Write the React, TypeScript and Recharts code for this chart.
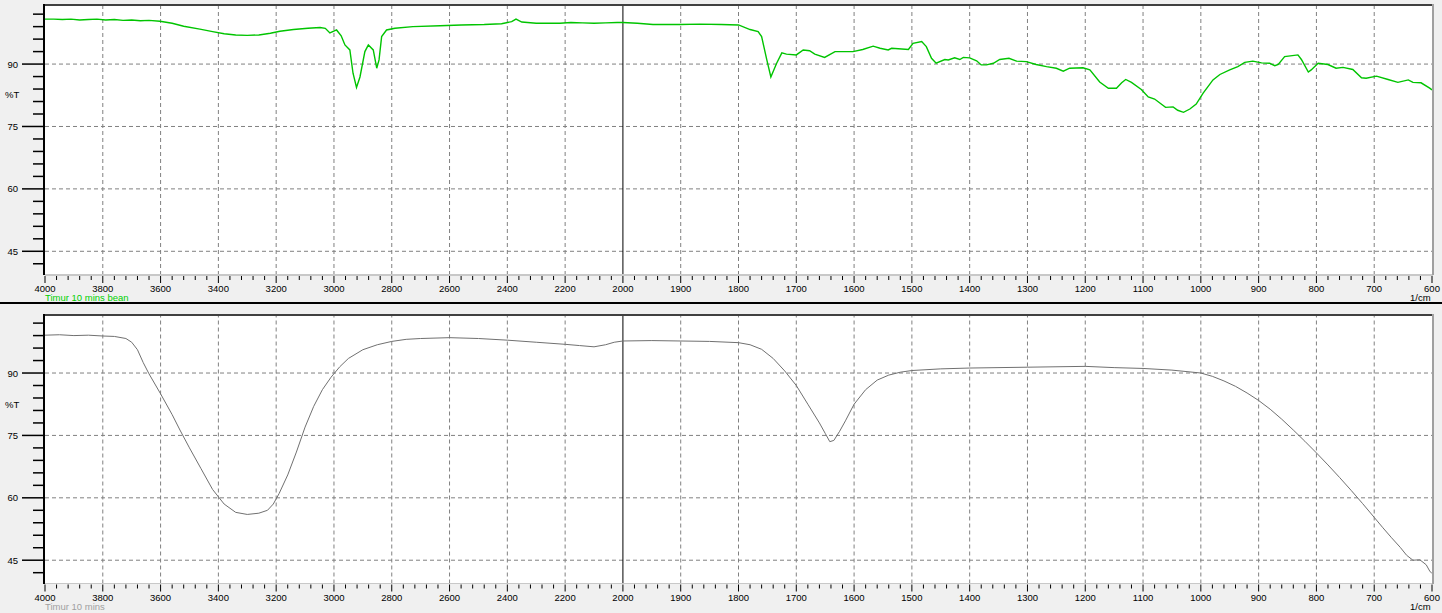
import { LineChart, Line, XAxis, YAxis, CartesianGrid, ReferenceLine } from 'recharts';

// FTIR spectra, two stacked panels sharing a split wavenumber axis
// (4000-2000 compressed, 2000-600 expanded x2)

const topWavenumbers = [
  4000, 3970, 3940, 3910, 3880, 3850, 3820, 3790, 3760, 3730, 3700, 3670, 3640, 3602, 3560, 3520, 3464, 3420, 3380,
  3340, 3300, 3260, 3220, 3187, 3140, 3090, 3048, 3030, 3014, 2991, 2975, 2962, 2945, 2934, 2922, 2910, 2893, 2881,
  2864, 2852, 2844, 2835, 2818, 2789, 2727, 2633, 2560, 2480, 2420, 2385, 2370, 2350, 2300, 2260, 2218, 2180, 2140,
  2100, 2060, 2020, 2000, 1975, 1948, 1901, 1867, 1830, 1800, 1780, 1766, 1760, 1751, 1744, 1734, 1725, 1717, 1700,
  1688, 1677, 1668, 1651, 1633, 1602, 1585, 1567, 1555, 1541, 1535, 1506, 1498, 1483, 1475, 1466, 1458, 1443, 1437,
  1426, 1417, 1411, 1400, 1388, 1380, 1371, 1359, 1348, 1332, 1319, 1302, 1285, 1267, 1250, 1238, 1227, 1204, 1192,
  1175, 1160, 1146, 1137, 1130, 1120, 1103, 1091, 1080, 1061, 1048, 1040, 1030, 1019, 1008, 996, 979, 967, 950, 936,
  924, 910, 895, 881, 872, 866, 855, 832, 826, 814, 809, 797, 780, 766, 754, 737, 722, 714, 696, 676, 659, 641, 633,
  619, 604, 600,
];
const topTransmittance = [
  100.8, 100.8, 100.7, 100.8, 100.6, 100.7, 100.8, 100.6, 100.7, 100.5, 100.6, 100.4, 100.5, 100.3, 99.8, 99.1, 98.4,
  97.8, 97.3, 97.0, 96.9, 97.0, 97.4, 97.9, 98.3, 98.6, 98.8, 98.6, 97.5, 98.2, 96.8, 94.6, 93.4, 87.8, 84.4, 86.9,
  93.0, 94.6, 93.4, 89.0, 91.0, 96.6, 98.2, 98.6, 99.0, 99.2, 99.4, 99.5, 99.7, 100.2, 100.8, 100.1, 99.8, 99.8, 99.8,
  100.0, 99.9, 99.8, 99.9, 100.0, 100.0, 99.8, 99.5, 99.5, 99.6, 99.5, 99.4, 98.3, 97.8, 96.6, 91.0, 86.9, 90.2, 92.7,
  92.4, 92.2, 93.4, 93.2, 92.4, 91.6, 93.0, 93.0, 93.5, 94.3, 93.8, 93.4, 93.8, 93.5, 95.0, 95.4, 94.2, 91.4, 90.2,
  91.1, 91.0, 91.5, 91.1, 91.6, 91.5, 90.8, 89.8, 89.8, 90.2, 91.1, 91.4, 90.7, 90.6, 89.9, 89.4, 89.0, 88.3, 89.0,
  89.1, 88.6, 85.7, 84.2, 84.2, 85.5, 86.3, 85.6, 83.9, 82.1, 81.6, 79.6, 79.7, 78.9, 78.4, 79.2, 80.4, 83.0, 86.2,
  87.5, 88.6, 89.4, 90.4, 90.7, 90.3, 90.2, 89.6, 89.9, 91.8, 92.2, 91.1, 88.1, 88.6, 90.2, 89.9, 89.0, 89.2, 88.7,
  86.7, 86.6, 87.1, 86.3, 85.6, 86.2, 85.6, 85.5, 84.2, 83.8,
];

const bottomWavenumbers = [
  4000, 3950, 3900, 3850, 3800, 3760, 3720, 3700, 3680, 3660, 3640, 3600, 3560, 3533, 3500, 3460, 3420, 3380, 3340,
  3300, 3260, 3230, 3210, 3190, 3160, 3130, 3100, 3070, 3040, 3010, 2980, 2950, 2900, 2850, 2800, 2750, 2700, 2600,
  2500, 2400, 2300, 2200, 2150, 2100, 2060, 2030, 2000, 1950, 1900, 1850, 1800, 1780, 1760, 1740, 1720, 1700, 1680,
  1660, 1650, 1642, 1635, 1625, 1615, 1600, 1580, 1560, 1540, 1520, 1500, 1450, 1400, 1300, 1200, 1150, 1100, 1050,
  1000, 980, 960, 940, 920, 900, 880, 860, 840, 820, 800, 780, 760, 740, 720, 700, 685, 670, 655, 644, 633, 621, 610,
  604, 600,
];
const bottomTransmittance = [
  99.1, 99.2, 99.0, 99.1, 98.9, 98.8, 98.3, 97.4, 95.6, 92.5, 89.8, 85.0, 80.0, 76.3, 72.0, 67.0, 62.0, 58.5, 56.5,
  56.0, 56.3, 57.0, 58.5, 61.0, 65.5, 71.0, 77.0, 82.0, 86.0, 89.0, 91.5, 93.5, 95.6, 96.8, 97.6, 98.1, 98.3, 98.5,
  98.3, 97.9, 97.4, 96.9, 96.6, 96.3, 96.8, 97.4, 97.7, 97.8, 97.7, 97.6, 97.3, 96.8, 95.7, 93.5, 90.5, 87.0, 82.5,
  78.0, 75.5, 73.5, 73.8, 76.0, 78.5, 82.5, 86.0, 88.3, 89.5, 90.2, 90.6, 91.0, 91.2, 91.4, 91.6, 91.3, 91.1, 90.7,
  90.0, 89.2, 88.1, 86.8, 85.2, 83.4, 81.3, 78.9, 76.3, 73.6, 70.8, 67.9, 64.9, 61.8, 58.6, 55.3, 52.8, 50.4, 48.1,
  46.2, 45.0, 45.1, 43.9, 42.4, 41.8,
];

const leftTickLabels = [4000, 3800, 3600, 3400, 3200, 3000, 2800, 2600, 2400, 2200, 2000];
const rightTickLabels = [1900, 1800, 1700, 1600, 1500, 1400, 1300, 1200, 1100, 1000, 900, 800, 700, 600];
const yTickLabels = [45, 60, 75, 90];

// split axis: 4000..2000 -> 0..1000, 2000..600 -> 1000..2400
const toPos = (wn: number) => (wn >= 2000 ? (4000 - wn) / 2 : 1000 + (2000 - wn));

const majorPos = [...leftTickLabels, ...rightTickLabels].map(toPos);
const minorPos: number[] = [];
for (let wn = 4000; wn > 2000; wn -= 40) minorPos.push(toPos(wn));
for (let wn = 2000; wn > 600; wn -= 20) minorPos.push(toPos(wn));
const xTicks = Array.from(new Set([...majorPos, ...minorPos])).sort((a, b) => a - b);
const yTicks: number[] = [];
for (let v = 42; v <= 102; v += 3) yTicks.push(v);

const gridX = [...leftTickLabels, ...rightTickLabels].filter((w) => w !== 4000 && w !== 2000 && w !== 600).map(toPos);

const topData = topWavenumbers.map((wn, i) => ({ pos: toPos(wn), t: topTransmittance[i] }));
const bottomData = bottomWavenumbers.map((wn, i) => ({ pos: toPos(wn), t: bottomTransmittance[i] }));

const FONT = '"Liberation Sans", Arial, sans-serif';

const XTick = (props: any) => {
  const { x, y, payload } = props;
  const isMajor = majorPos.includes(payload.value);
  const label = payload.value <= 1000 ? 4000 - payload.value * 2 : 2000 - (payload.value - 1000);
  return (
    <g>
      <line x1={x} x2={x} y1={y + 1} y2={y + (isMajor ? 8 : 5)} stroke="#000" strokeWidth={1} />
      {isMajor && (
        <text x={x} y={y + 17} textAnchor="middle" fontSize={9.5} fontFamily={FONT} fill="#000">
          {Math.round(label)}
        </text>
      )}
    </g>
  );
};

const YTick = (props: any) => {
  const { x, y, payload } = props;
  const isMajor = yTickLabels.includes(payload.value);
  return (
    <g>
      <line x1={x - (isMajor ? 23 : 12)} x2={x - 1} y1={y} y2={y} stroke="#000" strokeWidth={1.5} />
      {isMajor && (
        <text x={x - 27} y={y + 3.5} textAnchor="end" fontSize={9.5} fontFamily={FONT} fill="#000">
          {payload.value}
        </text>
      )}
    </g>
  );
};

interface PanelProps {
  data: { pos: number; t: number }[];
  color: string;
  width: number;
  height: number;
  top: number;
  axisHeight: number;
  domain: [number, number];
  label: string;
  labelColor: string;
  strokeWidth: number;
}

function Panel({ data, color, width, height, top, axisHeight, domain, label, labelColor, strokeWidth }: PanelProps) {
  const plotBottom = height - axisHeight;
  return (
    <div style={{ position: 'relative', width, height, background: '#f0f0f0' }}>
      <LineChart width={width} height={height} data={data} margin={{ top, right: 10, left: 0, bottom: 0 }}>
        <CartesianGrid fill="#fff" horizontal={false} vertical={false} />
        <XAxis
          dataKey="pos"
          type="number"
          domain={[0, 2400]}
          ticks={xTicks}
          interval={0}
          height={axisHeight}
          tickSize={0}
          tickMargin={0}
          axisLine={false}
          tick={<XTick />}
        />
        <YAxis
          type="number"
          domain={domain}
          ticks={yTicks}
          interval={0}
          width={45}
          tickSize={0}
          tickMargin={0}
          axisLine={false}
          tick={<YTick />}
          allowDataOverflow
        />
        {yTickLabels.map((v) => (
          <ReferenceLine key={`h${v}`} y={v} stroke="#808080" strokeDasharray="4 3" />
        ))}
        {gridX.map((p) => (
          <ReferenceLine key={`v${p}`} x={p} stroke="#808080" strokeDasharray="4 3" />
        ))}
        <ReferenceLine x={1000} stroke="#000" strokeWidth={1} />
        <Line
          type="linear"
          dataKey="t"
          stroke={color}
          strokeWidth={strokeWidth}
          dot={false}
          isAnimationActive={false}
        />
      </LineChart>
      {/* frame */}
      <div style={{ position: 'absolute', left: 43, top: top - 1, width: 1390, height: 2, background: '#404040' }} />
      <div style={{ position: 'absolute', left: 43, top: top - 1, width: 2, height: plotBottom - top + 1, background: '#000' }} />
      <div style={{ position: 'absolute', left: 45, top: plotBottom - 1, width: 1388, height: 1.5, background: '#c8c8c8' }} />
      <div style={{ position: 'absolute', left: 1432, top: top - 1, width: 1.5, height: plotBottom - top + 1, background: '#a0a0a0' }} />
      <div style={{ position: 'absolute', left: 5, top: top + 84, fontFamily: FONT, fontSize: 9.5, color: '#000' }}>%T</div>
      <div style={{ position: 'absolute', left: 45, top: plotBottom + 17, fontFamily: FONT, fontSize: 9.5, color: labelColor, whiteSpace: 'nowrap' }}>
        {label}
      </div>
      <div style={{ position: 'absolute', left: 1410, top: plotBottom + 18, fontFamily: FONT, fontSize: 9.5, lineHeight: '10px', color: '#000' }}>1/cm</div>
    </div>
  );
}

export default function App() {
  return (
    <div style={{ position: 'absolute', left: 0, top: 0, width: 1442, height: 613, background: '#f0f0f0' }}>
      <Panel
        data={topData}
        color="#00c400"
        width={1442}
        height={302}
        top={5}
        axisHeight={27}
        domain={[39.3, 104.2]}
        label="Timur 10 mins bean"
        labelColor="#00d000"
        strokeWidth={1.4}
      />
      <div style={{ width: 1442, height: 2, background: '#000' }} />
      <Panel
        data={bottomData}
        color="#707070"
        width={1442}
        height={309}
        top={11}
        axisHeight={29.5}
        domain={[39.4, 103.95]}
        label="Timur 10 mins"
        labelColor="#a0a0a0"
        strokeWidth={1}
      />
    </div>
  );
}
